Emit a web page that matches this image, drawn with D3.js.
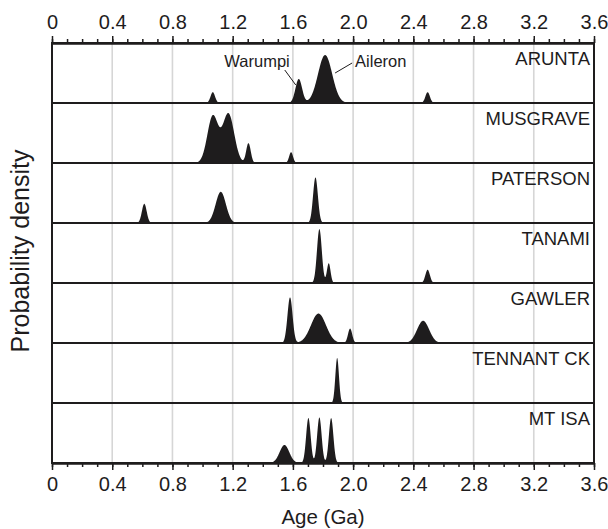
<!DOCTYPE html>
<html><head><meta charset="utf-8">
<script src="https://cdn.jsdelivr.net/npm/d3@7"></script>
<style>
html,body{margin:0;padding:0;background:#fff;}
svg{display:block;font-family:"Liberation Sans",Arial,Helvetica,sans-serif;}
</style></head><body>
<svg id="chart" width="608" height="529"></svg>
<script>
// ---- data ----
const regions = ["ARUNTA","MUSGRAVE","PATERSON","TANAMI","GAWLER","TENNANT CK","MT ISA"];
// peak components per region: [age (Ga), relative density, spread (Ga)]
const aruntaPeaks   = [[1.068,0.18,0.015],[1.639,0.40,0.022],[1.814,0.80,0.047],[2.495,0.18,0.015]];
const musgravePeaks = [[1.068,0.78,0.036],[1.172,0.82,0.038],[1.305,0.33,0.015],[1.588,0.18,0.013]];
const patersonPeaks = [[0.613,0.32,0.016],[1.121,0.52,0.034],[1.750,0.76,0.016]];
const tanamiPeaks   = [[1.776,0.90,0.016],[1.838,0.33,0.012],[2.495,0.22,0.015]];
const gawlerPeaks   = [[1.581,0.76,0.017],[1.770,0.49,0.050],[1.980,0.24,0.014],[2.465,0.37,0.040]];
const tennantPeaks  = [[1.894,0.75,0.012]];
const mtisaPeaks    = [[1.544,0.30,0.032],[1.703,0.75,0.015],[1.776,0.76,0.015],[1.854,0.75,0.015]];
const regionPeaks = [aruntaPeaks,musgravePeaks,patersonPeaks,tanamiPeaks,gawlerPeaks,tennantPeaks,mtisaPeaks];
const majorTicks = [0,0.4,0.8,1.2,1.6,2.0,2.4,2.8,3.2,3.6];
const majorLabels = ["0","0.4","0.8","1.2","1.6","2.0","2.4","2.8","3.2","3.6"];
const minorTicks = d3.range(0,37).map(i=>i/10);
const annotations = [
  {text:"Warumpi", age:1.639, anchor:"end"},
  {text:"Aileron", age:1.814, anchor:"start"}
];

// ---- layout ----
const svg = d3.select("#chart");
const L = 52, R = 594, T = 43, B = 463;
const ink = "#1e1c1d";
const x = d3.scaleLinear().domain([0,3.6]).range([L,R]);
const band = d3.scaleBand().domain(regions).range([T,B]).paddingInner(0).paddingOuter(0);
const bh = band.bandwidth();

// gridlines
svg.append("g").selectAll("line").data(majorTicks.slice(1,-1)).join("line")
  .attr("x1",d=>x(d)).attr("x2",d=>x(d)).attr("y1",T).attr("y2",B)
  .attr("stroke","#d6d6d6").attr("stroke-width",1.6);

// density curves
const grid = d3.range(0,3.6001,0.002);
const dens = (peaks,a)=>d3.sum(peaks,p=>p[1]*Math.exp(-((a-p[0])**2)/(2*p[2]*p[2])));
regions.forEach((r,i)=>{
  const base = band(r)+bh;
  const y = d3.scaleLinear().domain([0,1]).range([base, base-bh]);
  const area = d3.area().x(d=>x(d[0])).y0(base).y1(d=>y(d[1])).curve(d3.curveLinear);
  const segs=[]; let cur=[];
  grid.forEach(a=>{const v=dens(regionPeaks[i],a); if(v>0.002){cur.push([a,v]);} else if(cur.length){segs.push(cur);cur=[];}});
  if(cur.length) segs.push(cur);
  segs.forEach(s=>svg.append("path").attr("d",area(s)).attr("fill",ink));
  svg.append("text").attr("x",R-4).attr("y",band(r)+22).attr("text-anchor","end")
    .attr("font-size",18.5).attr("fill",ink).text(r);
});

// panel separators
svg.append("g").selectAll("line").data(regions.slice(0,-1)).join("line")
  .attr("x1",L).attr("x2",R).attr("y1",d=>band(d)+bh).attr("y2",d=>band(d)+bh)
  .attr("stroke",ink).attr("stroke-width",2.2);
// frame
svg.append("rect").attr("x",L).attr("y",T).attr("width",R-L).attr("height",B-T)
  .attr("fill","none").attr("stroke",ink).attr("stroke-width",2);

// axes
const axTop = d3.axisTop(x).tickValues(majorTicks).tickFormat((d,i)=>majorLabels[i]).tickSize(7).tickSizeOuter(0).tickPadding(7);
const axBot = d3.axisBottom(x).tickValues(majorTicks).tickFormat((d,i)=>majorLabels[i]).tickSize(7).tickSizeOuter(0).tickPadding(7);
const mTop = d3.axisTop(x).tickValues(minorTicks).tickFormat("").tickSize(4).tickSizeOuter(0);
const mBot = d3.axisBottom(x).tickValues(minorTicks).tickFormat("").tickSize(4).tickSizeOuter(0);
[[mTop,T],[mBot,B],[axTop,T],[axBot,B]].forEach(([ax,yy])=>{
  const g = svg.append("g").attr("transform",`translate(0,${yy})`).call(ax);
  g.select(".domain").attr("stroke",ink).attr("stroke-width",2);
  g.selectAll(".tick line").attr("stroke",ink).attr("stroke-width",1.5);
  g.selectAll(".tick text").attr("fill",ink).attr("font-size",20).attr("font-family","Liberation Sans, Arial, sans-serif");
});

// axis titles
svg.append("text").attr("x",(L+R)/2).attr("y",524).attr("text-anchor","middle")
  .attr("font-size",20.5).attr("fill",ink).text("Age (Ga)");
svg.append("text").attr("transform",`translate(29,${(T+B)/2-2}) rotate(-90)`).attr("text-anchor","middle")
  .attr("font-size",25).attr("fill",ink).text("Probability density");

// annotations (Arunta)
const ab = band("ARUNTA")+bh;
const ay = d3.scaleLinear().domain([0,1]).range([ab, ab-bh]);
svg.append("text").attr("x",x(annotations[0].age)-9).attr("y",T+24).attr("text-anchor",annotations[0].anchor)
  .attr("font-size",16.5).attr("fill",ink).text(annotations[0].text);
svg.append("line").attr("x1",x(annotations[0].age)-14).attr("y1",T+27).attr("x2",x(annotations[0].age)-3).attr("y2",ay(0.30))
  .attr("stroke",ink).attr("stroke-width",1);
svg.append("text").attr("x",x(annotations[1].age)+30).attr("y",T+24).attr("text-anchor",annotations[1].anchor)
  .attr("font-size",16.5).attr("fill",ink).text(annotations[1].text);
svg.append("line").attr("x1",x(annotations[1].age)+27).attr("y1",T+20).attr("x2",x(annotations[1].age)+10).attr("y2",ay(0.50))
  .attr("stroke",ink).attr("stroke-width",1);
</script></body></html>
